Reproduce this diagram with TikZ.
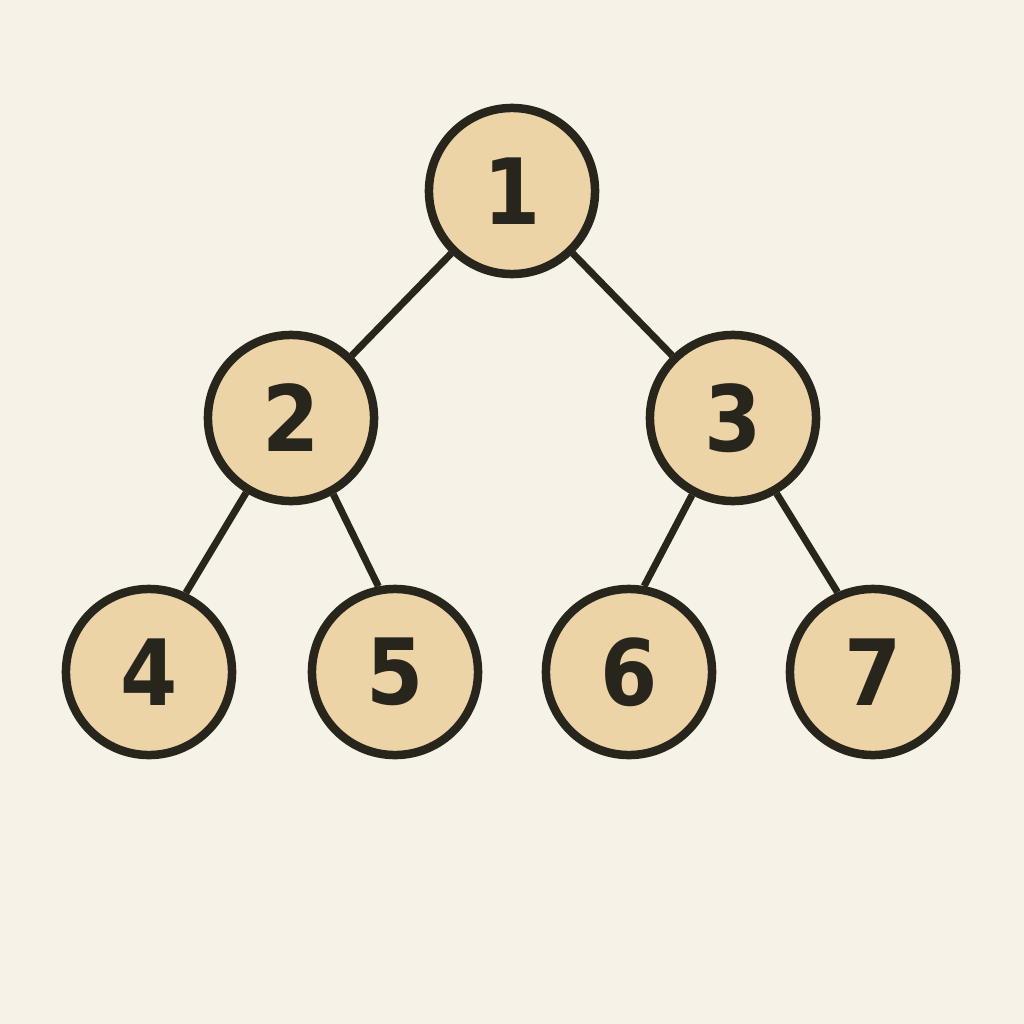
\documentclass[tikz,border=0pt]{standalone}
\usepackage{fontspec}
\setmainfont{DejaVu Sans}
\newfontfamily\digfont{DejaVu Sans}[FakeStretch=0.9]
\definecolor{bg}{HTML}{F7F2E8}
\definecolor{nodefill}{HTML}{EDD4A7}
\definecolor{ink}{HTML}{27251C}
\begin{document}
\begin{tikzpicture}[x=0.01cm,y=-0.01cm,
  treenode/.style={circle,draw=ink,fill=nodefill,line width=8.5*0.01cm,minimum size=1.66cm,inner sep=0pt,
    font=\digfont\fontsize{26}{26}\selectfont\bfseries,text=ink},
  edge/.style={draw=ink,line width=7*0.01cm}]
\fill[bg] (0,0) rectangle (1024,1024);
\useasboundingbox (0,0) rectangle (1024,1024);
\node[treenode] (n1) at (512,191) {1};
\node[treenode] (n2) at (291,418) {2};
\node[treenode] (n3) at (733,418) {3};
\node[treenode] (n4) at (149,672) {4};
\node[treenode] (n5) at (395,672) {5};
\node[treenode] (n6) at (629,672) {6};
\node[treenode] (n7) at (873,672) {7};
\draw[edge] (n1) -- (n2);
\draw[edge] (n1) -- (n3);
\draw[edge] (n2.-121) -- (n4.65);
\draw[edge] (n2.-61) -- (n5.101);
\draw[edge] (n3.-118) -- (n6.80);
\draw[edge] (n3.-60) -- (n7.114);
\end{tikzpicture}
\end{document}
